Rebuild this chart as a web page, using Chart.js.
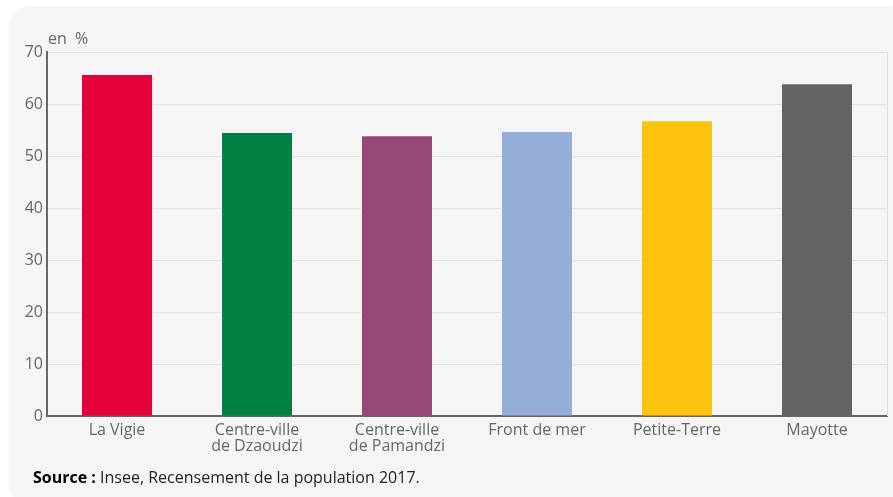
<!DOCTYPE html>
<html>
<head>
<meta charset="utf-8">
<script src="https://cdn.jsdelivr.net/npm/chart.js@4"></script>
<style>
  html, body { margin: 0; padding: 0; background: #fff; }
  #wrap { position: relative; width: 893px; height: 497px; }
  #source {
    position: absolute; left: 33px; top: 466px;
    font: 16px "Open Sans", sans-serif; color: #222;
  }
  #source b { color: #000; }
</style>
</head>
<body>
<div id="wrap">
  <canvas id="chart" width="893" height="497"></canvas>
  <div id="source"><b>Source :</b> Insee, Recensement de la population 2017.</div>
</div>
<script>
// ---- données ----
const categories = ["La Vigie", ["Centre-ville", "de Dzaoudzi"], ["Centre-ville", "de Pamandzi"], "Front de mer", "Petite-Terre", "Mayotte"];
const values = [65.6, 54.4, 53.8, 54.6, 56.7, 63.8];
const barColors = ["#e4003a", "#008042", "#954778", "#95aed9", "#fdc30f", "#636363"];
const yTicks = [0, 10, 20, 30, 40, 50, 60, 70];
const unitLabel = "en  %";

// fond arrondi + titre d'unité + bord droit
const panel = {
  id: "panel",
  beforeDraw(chart) {
    const ctx = chart.ctx;
    ctx.save();
    ctx.fillStyle = "#f5f5f5";
    ctx.beginPath();
    ctx.roundRect(9, 6, 900, 500, 22);
    ctx.fill();
    ctx.restore();
  },
  afterDraw(chart) {
    const ctx = chart.ctx;
    const a = chart.chartArea;
    ctx.save();
    ctx.strokeStyle = "#dedede";
    ctx.lineWidth = 1;
    ctx.beginPath();
    ctx.moveTo(a.right + 0.5, a.top);
    ctx.lineTo(a.right + 0.5, a.bottom);
    ctx.stroke();
    ctx.fillStyle = "#666";
    ctx.font = '16px "Open Sans"';
    ctx.textBaseline = "alphabetic";
    ctx.fillText(unitLabel, a.left + 1, a.top - 8);
    ctx.restore();
  }
};

new Chart(document.getElementById("chart"), {
  type: "bar",
  data: {
    labels: categories,
    datasets: [{
      data: values,
      backgroundColor: barColors,
      barPercentage: 0.5,
      categoryPercentage: 1
    }]
  },
  options: {
    responsive: false,
    animation: false,
    layout: { padding: { left: 0, top: 52, right: 6, bottom: 0 } },
    plugins: { legend: { display: false }, tooltip: { enabled: false } },
    scales: {
      x: {
        grid: { display: false, drawTicks: false },
        border: { color: "#666", width: 2 },
        ticks: { color: "#666", font: { family: "Open Sans", size: 16, lineHeight: 1 }, padding: 6, maxRotation: 0 },
        afterFit(s) { s.height = 81; }
      },
      y: {
        min: 0, max: 70,
        afterBuildTicks(s) { s.ticks = yTicks.map(v => ({ value: v })); },
        grid: { color: "#e0e0e0", drawTicks: false },
        border: { color: "#666", width: 2 },
        ticks: { color: "#666", font: { family: "Open Sans", size: 16 }, padding: 4 },
        afterFit(s) { s.width = 47; }
      }
    }
  },
  plugins: [panel]
});
</script>
</body>
</html>
